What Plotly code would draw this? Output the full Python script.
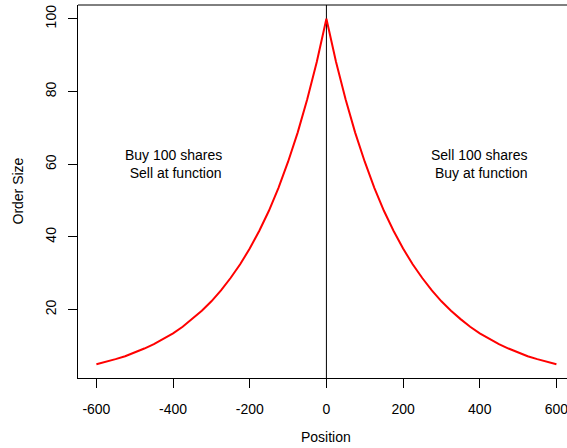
import plotly.graph_objects as go

# Data
position = [-600, -575, -550, -525, -500, -475, -450, -425, -400, -375, -350, -325,
            -300, -275, -250, -225, -200, -175, -150, -125, -100, -75, -50, -25, 0,
            25, 50, 75, 100, 125, 150, 175, 200, 225, 250, 275, 300, 325, 350, 375,
            400, 425, 450, 475, 500, 525, 550, 575, 600]
order_size = [5.0, 5.6, 6.4, 7.2, 8.2, 9.3, 10.5, 11.9, 13.5, 15.3, 17.4, 19.7,
              22.3, 25.3, 28.7, 32.5, 36.8, 41.7, 47.2, 53.5, 60.7, 68.7, 77.9, 88.2, 100.0,
              88.2, 77.9, 68.7, 60.7, 53.5, 47.2, 41.7, 36.8, 32.5, 28.7, 25.3, 22.3, 19.7, 17.4, 15.3,
              13.5, 11.9, 10.5, 9.3, 8.2, 7.2, 6.4, 5.6, 5.0]
x_ticks = [-600, -400, -200, 0, 200, 400, 600]
y_ticks = [20, 40, 60, 80, 100]
left_label = "Buy 100 shares<br> Sell at function"
right_label = "Sell 100 shares<br> Buy at function"

FONT = "Liberation Sans, Arial, sans-serif"

fig = go.Figure()
fig.add_trace(go.Scatter(x=position, y=order_size, mode="lines",
                         line=dict(color="#ff0000", width=2), showlegend=False,
                         hoverinfo="skip"))

# vertical line at 0
fig.add_shape(type="line", xref="x", yref="paper", x0=0, x1=0, y0=0, y1=1,
              line=dict(color="black", width=1), layer="below")
# top frame line
fig.add_shape(type="line", xref="paper", yref="paper", x0=0, x1=1, y0=1, y1=1,
              line=dict(color="black", width=1))

fig.add_annotation(x=-400, y=60, xref="x", yref="y", text=left_label, showarrow=False,
                   font=dict(family=FONT, size=14, color="black"), align="center")
fig.add_annotation(x=400, y=60, xref="x", yref="y", text=right_label, showarrow=False,
                   font=dict(family=FONT, size=14, color="black"), align="center")

fig.add_annotation(x=0, y=0, xref="x", yref="paper", yshift=-59, text="Position",
                   showarrow=False, font=dict(family=FONT, size=14, color="black"),
                   yanchor="middle")
fig.add_annotation(x=-(78 - 17) / 489, y=0.5, xref="paper", yref="paper", text="Order Size",
                   textangle=-90, showarrow=False,
                   font=dict(family=FONT, size=14, color="black"), xanchor="center")

fig.update_layout(
    width=567, height=448,
    margin=dict(l=78, r=0, t=5, b=70),
    paper_bgcolor="white", plot_bgcolor="white",
    font=dict(family=FONT, size=14, color="black"),
    xaxis=dict(range=[-648, 627.6], tickvals=x_ticks, ticktext=[str(v) for v in x_ticks],
               showgrid=False, zeroline=False, showline=True, linecolor="black", linewidth=1,
               ticks="outside", ticklen=9, tickcolor="black", tickwidth=1,
               ticklabelstandoff=9, ticklabeloverflow="allow", tickfont=dict(size=14)),
    yaxis=dict(range=[1.2, 103.8], tickvals=y_ticks, ticktext=[str(v) for v in y_ticks],
               showgrid=False, zeroline=False, showline=True, linecolor="black", linewidth=1,
               ticks="outside", ticklen=9, tickcolor="black", tickwidth=1,
               tickangle=-90, ticklabelstandoff=6, tickfont=dict(size=14)),
)

fig.write_html("out.html", config={"displayModeBar": False},
               post_script="document.body.style.margin='0';document.body.style.overflow='hidden';")
